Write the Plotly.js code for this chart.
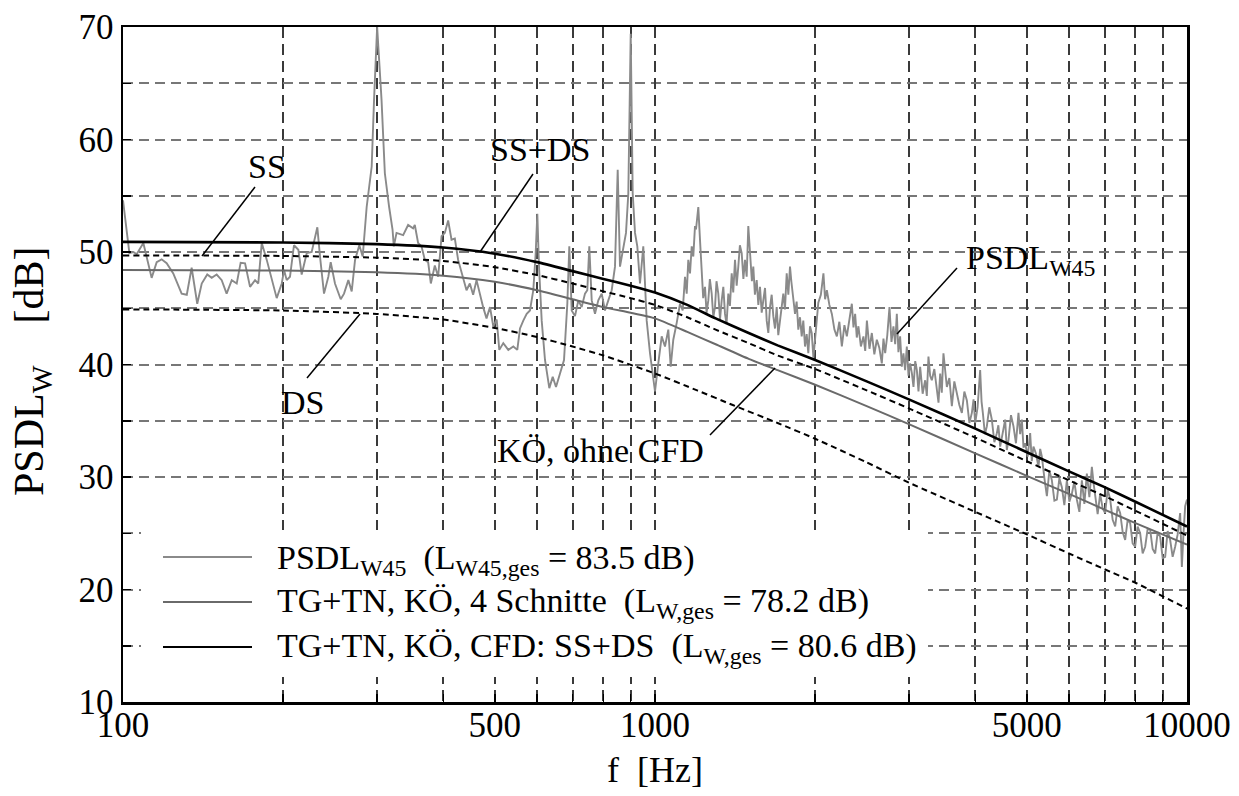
<!DOCTYPE html>
<html>
<head>
<meta charset="utf-8">
<script src="https://cdn.plot.ly/plotly-3.0.1.min.js"></script>
<style>html,body{margin:0;padding:0;background:#fff;}#chart{width:1239px;height:796px;}</style>
</head>
<body>
<div id="chart"></div>
<script>
// ---- Measured spectrum PSDL_W45 (f in Hz, level in dB) ----
const psdF = [100,102.8,104.6,106.1,109.2,113.2,115.7,118.2,120.8,124.3,128.9,131.8,134.6,137.9,140.6,144.0,146.8,150.0,153.3,156.6,160.1,163.6,166.4,169.6,173.3,177.1,179.6,182.3,186.3,190.3,194.5,198.8,200.8,203.1,206.0,209.6,213.6,216.7,221.5,226.3,231.9,234.6,238.7,243.2,245.7,250.3,256.6,260.3,265.2,269.1,273.0,278.1,282.2,287.1,293.4,296.4,300.4,306.2,310.6,316.4,321.1,322.9,326.7,336.2,343.5,351.0,353.6,358.7,364.0,369.3,374.6,379.0,385.6,391.2,397.0,402.7,408.5,414.5,420.5,426.5,432.9,442.3,448.7,455.2,461.9,468.5,475.3,482.3,
489.6,496.6,504.0,509.7,518.6,530.0,541.6,551.0,557.5,565.5,573.9,582.1,590.5,596.7,600.9,605.3,612.4,621.2,632.9,642.3,651.5,662.9,674.5,684.2,690.1,697.3,707.3,717.5,728.1,738.6,746.0,752.5,760.4,771.3,782.4,794.0,805.4,817.0,829.1,841.0,850.9,859.4,869.5,882.0,890.9,900.2,908.0,917.1,926.3,937.1,950.6,964.7,978.6,992.7,1000,
1014.4,1029.4,1044.2,1059.3,1070.3,1082.4,1098.5,1114.3,1127.4,1138.7,1147.1,1155.0,1163.6,1172.2,1180.3,1189.0,1194.2,1206.1,1215.0,1224.0,
1232,1241.6,1250,1259.5,1268,1278.1,1287,1296.5,1305,1315.2,1325,1334.7,1344,1353.9,1363,1373.4,1383,1393.7,1403,1413.8,1424,1434.1,1444,1455.4,1466,1476.3,1487,1497.5,1505,1513.2,1521,1530.3,1541,1553.0,1564,1575.3,1587,1598.0,1610,1621.7,1633,1645.0,1657,1668.7,1681,1693.5,1705,1717.8,1730,1742.5,1755,1768.3,1781,1793.8,1804,1814.9,1824,1833.1,1846,1859.4,1873,1887.0,1900,1914.2,1928,1941.7,1956,1970.5,1985,1998.9,2013,2027.6,
2050,2073,2088,2104,2127,2150,2174,2197,2221,2245,2270,2294,2320,2344,2361,2378,2395,2412,2438,2465,2484,2502,2530,2556,2584,2612,2640,2669,2688,2708,2733,2759,2783,2807,2828,2848,2868,2889,2910,2931,2952,2974,2996,3017,3040,3061,3084,3106,3128,3151,3185,3220,3243,3266,3290,3314,3350,3387,3411,3436,3460,3485,3511,3537,3575,3614,3653,3693,3733,3774,3815,3857,3899,3941,3970,3998,4040,4085,4110,4133,4170,4205,4250,4297,4344,4391,4420,4455,4503,4552,4585,4618,4668,4719,4770,4822,4857,4893,4928,4964,5018,5072,5108,5145,5200,5258,5297,5336,5394,5453,5512,5572,5633,5694,5756,5818,5881,5945,6010,6075,6141,6208,6276,6344,6413,6483,6554,6625,6672,6720,6793,6867,6942,7017,7094,7171,7249,7328,7408,7488,7570,7652,7735,7819,7904,7990,8077,8165,8254,8344,8435,8526,8619,8713,8808,8903,9000,9098,9197,9297,9398,9500,9603,9708,9744,9780,9850,9921,10000];
const psdL = [54.6,49.9,50.0,49.8,50.8,47.7,49.1,49.35,49.0,48.1,46.3,46.2,48.6,45.4,47.2,48.0,47.7,48.0,47.5,46.3,47.5,47.2,49.05,49.0,46.9,47.5,47.2,50.8,49.3,47.5,45.9,47.2,48.4,47.5,47.8,50.6,50.2,48.0,49.9,50.0,52.2,49.6,46.3,47.8,49.1,47.2,45.8,46.3,47.5,46.5,49.3,50.6,49.6,54.0,57.6,63.5,70.0,63.5,57.0,54.0,52.0,50.5,51.7,51.5,52.4,52.1,52.4,50.8,50.5,49.3,49.1,47.2,48.8,47.8,51.4,51.7,52.8,51.1,51.2,49.3,48.1,46.6,47.2,46.2,47.5,46.2,45.1,44.1,
45.1,43.4,44.0,41.3,41.9,41.3,41.6,41.3,43.2,43.9,44.5,44.8,46.6,49.9,53.4,48.7,43.9,40.4,37.9,38.9,38.0,39.2,40.4,45.4,50.5,44.8,44.3,45.7,45.1,46.3,46.6,50.5,45.7,44.5,45.7,46.3,44.8,45.7,46.6,48.7,57.3,48.7,49.9,51.7,55.2,69.4,55.2,51.7,50.5,47.2,50.5,43.9,41.0,38.6,37.6,
40.1,42.5,41.6,43.1,39.8,42.2,43.7,45.4,44.8,47.8,46.3,49.3,48.1,50.5,49.6,52.3,52.0,54.0,51.1,48.7,
45.9,46.9,44.6,45.7,47.6,46.3,44.2,45.1,47.4,46.3,44.0,45.7,46.9,44.5,43.6,46.3,45.2,48.1,46.4,49.3,47.0,48.7,50.6,49.9,47.6,49.3,47.8,52.3,50.8,49.9,47.4,48.7,46.2,47.5,45.3,46.9,44.6,45.7,46.8,43.9,42.8,45.1,46.2,44.3,43.2,45.1,42.6,43.9,45.0,46.3,44.9,48.1,46.2,48.7,47.4,46.3,45.6,44.5,45.6,43.1,44.2,42.5,43.9,41.6,42.7,41.0,43.4,42.8,40.6,41.9,43.8,45.5,
46.2,48.1,45.8,46.6,45.3,44.5,43.1,42.5,43.8,41.6,43.5,42.5,44.1,45.4,43.3,44.5,42.4,43.4,41.6,42.5,41.2,43.9,41.4,42.8,40.9,42.2,41.5,40.1,42.3,41.0,42.6,45.1,42.0,43.4,41.8,44.5,41.1,42.5,39.8,41.0,39.5,41.6,39.0,40.1,39.2,38.0,40.3,39.5,37.6,39.8,37.4,38.6,37.2,40.7,39.0,38.6,39.6,37.7,36.6,39.2,37.5,41.0,39.2,38.0,38.8,36.3,38.5,37.4,36.4,35.7,37.6,36.8,34.8,35.7,36.9,34.8,36.2,39.5,36.7,35.7,33.8,34.5,36.2,35.1,33.1,33.9,34.6,32.7,33.9,35.1,32.4,33.3,35.5,34.5,33.0,35.7,33.8,35.1,32.6,33.0,31.8,33.9,31.4,32.7,32.1,30.9,32.5,31.8,29.9,28.3,30.6,29.7,27.9,28.0,29.9,29.1,27.5,29.7,27.8,28.5,29.6,28.0,26.9,29.7,27.6,30.3,28.2,30.9,29.5,28.3,26.7,28.5,27.2,26.8,28.9,28.0,26.2,25.6,27.4,26.8,25.1,24.4,26.2,25.9,24.1,23.8,25.6,25.0,23.2,23.8,25.4,25.3,23.6,23.2,25.1,24.7,22.8,22.9,25.2,24.4,22.9,23.8,24.9,26.8,23.6,22.0,25.0,27.4,28.0];

// ---- Model curves ----
const sumF = [100,200,300,400,500,600,700,800,900,1000,1150,1300,1500,1700,2000,2500,3000,4000,5000,6000,7000,8000,10000];
const sumL = [50.9,50.85,50.7,50.4,49.85,49.1,48.3,47.6,47.0,46.4,45.3,44.1,42.8,41.7,40.4,38.5,36.9,34.3,32.2,30.5,29.1,27.8,25.6];
const ssF = [100,200,300,400,500,600,700,800,900,1000,1150,1300,1500,1700,2000,2500,3000,4000,5000,6000,7000,8000,10000];
const ssL = [49.7,49.65,49.5,49.2,48.65,47.95,47.2,46.5,45.9,45.3,44.2,43.1,41.9,40.8,39.6,37.7,36.1,33.5,31.4,29.7,28.3,27.0,24.8];
const koeF = [100,200,300,400,500,600,700,800,900,1000,1150,1300,1500,1700,2000,2500,3000,4000,5000,6000,7000,8000,10000];
const koeL = [48.4,48.35,48.2,47.9,47.35,46.6,45.8,45.1,44.6,44.1,42.9,41.8,40.5,39.5,38.2,36.3,34.7,32.1,30.1,28.5,27.1,25.9,24.0];
const dsF = [100,200,300,400,500,600,700,800,1000,1200,1400,1700,2000,2500,3000,4000,5000,6000,7000,8000,10000];
const dsL = [44.9,44.8,44.5,44.0,43.25,42.45,41.6,40.8,39.2,37.7,36.4,34.8,33.4,31.3,29.5,26.9,24.9,23.2,21.8,20.6,18.3];

// ---- Axis ticks ----
const xTickVals = [100,500,1000,5000,10000];
const xTickText = ['100','500','1000','5000','10000'];
const xMinorVals = [200,300,400,600,700,800,900,2000,3000,4000,6000,7000,8000,9000];
const yTickVals = [10,20,30,40,50,60,70];
const yTickText = ['10','20','30','40','50','60','70'];
const yMinorVals = [15,25,35,45,55,65];

// ---- Texts ----
const legendTexts = [
  'PSDL<sub>W45</sub>\u00a0\u00a0(L<sub>W45,ges</sub> = 83.5 dB)',
  'TG+TN, KÖ, 4 Schnitte\u00a0\u00a0(L<sub>W,ges</sub> = 78.2 dB)',
  'TG+TN, KÖ, CFD: SS+DS\u00a0\u00a0(L<sub>W,ges</sub> = 80.6 dB)'
];
const xTitle = 'f\u00a0\u00a0[Hz]';
const yTitle = 'PSDL<sub>W</sub>\u00a0\u00a0\u00a0\u00a0[dB]';

const FONT = 'Liberation Serif, Times New Roman, serif';
const PSD_COLOR = '#8a8a8a';
const KOE_COLOR = '#6a6a6a';
const VGRID = '#3a3a3a';
const HGRID = '#777777';

const traces = [
  {x: psdF, y: psdL, type: 'scatter', mode: 'lines', name: 'PSDL_W45',
   line: {color: PSD_COLOR, width: 1.9}},
  {x: koeF, y: koeL, type: 'scatter', mode: 'lines', name: 'TG+TN, KÖ, 4 Schnitte',
   line: {color: KOE_COLOR, width: 2, shape: 'spline', smoothing: 0.5}},
  {x: dsF, y: dsL, type: 'scatter', mode: 'lines', name: 'DS',
   line: {color: '#000', width: 2, dash: '6px,4px', shape: 'spline', smoothing: 0.5}},
  {x: ssF, y: ssL, type: 'scatter', mode: 'lines', name: 'SS',
   line: {color: '#000', width: 2, dash: '6px,4px', shape: 'spline', smoothing: 0.5}},
  {x: sumF, y: sumL, type: 'scatter', mode: 'lines', name: 'TG+TN, KÖ, CFD: SS+DS',
   line: {color: '#000', width: 2.6, shape: 'spline', smoothing: 0.5}}
];

// pixel -> paper helpers for the plot frame (l=123, r=1187, t=27, b=702)
const px = v => (v - 123) / 1064;
const py = v => (702 - v) / 675;

const shapes = [
  {type: 'rect', xref: 'paper', yref: 'paper', x0: px(141), x1: px(928), y0: py(677), y1: py(530),
   fillcolor: '#fff', line: {width: 0}, layer: 'above'},
  // legend samples
  {type: 'line', xref: 'paper', yref: 'paper', x0: px(163), x1: px(252), y0: py(557), y1: py(557), line: {color: PSD_COLOR, width: 2}},
  {type: 'line', xref: 'paper', yref: 'paper', x0: px(163), x1: px(252), y0: py(602), y1: py(602), line: {color: KOE_COLOR, width: 2}},
  {type: 'line', xref: 'paper', yref: 'paper', x0: px(163), x1: px(252), y0: py(647), y1: py(647), line: {color: '#000', width: 2}},
  // leader lines
  {type: 'line', xref: 'paper', yref: 'paper', x0: px(255), y0: py(187), x1: px(202), y1: py(256), line: {color: '#000', width: 1.5}},
  {type: 'line', xref: 'paper', yref: 'paper', x0: px(533), y0: py(174), x1: px(480), y1: py(252), line: {color: '#000', width: 1.5}},
  {type: 'line', xref: 'paper', yref: 'paper', x0: px(360), y0: py(314), x1: px(307), y1: py(378), line: {color: '#000', width: 1.5}},
  {type: 'line', xref: 'paper', yref: 'paper', x0: px(775), y0: py(368), x1: px(710), y1: py(435), line: {color: '#000', width: 1.5}},
  {type: 'line', xref: 'paper', yref: 'paper', x0: px(957), y0: py(268), x1: px(897), y1: py(334), line: {color: '#000', width: 1.5}}
];

const ann = (text, x, y, xanchor, size) => ({text, xref: 'paper', yref: 'paper', x: px(x), y: py(y),
  xanchor: xanchor || 'center', yanchor: 'middle', showarrow: false,
  font: {family: FONT, size: size || 34, color: '#000'}});

const annotations = [
  ann('SS', 267, 167),
  ann('SS+DS', 540, 150),
  ann('DS', 302, 402),
  ann('KÖ, ohne CFD', 600, 450),
  ann('PSDL<sub>W45</sub>', 964, 260, 'left'),
  ann(legendTexts[0], 275, 560, 'left'),
  ann(legendTexts[1], 275, 603, 'left'),
  ann(legendTexts[2], 275, 648, 'left'),
  ann(xTitle, 655, 770, 'center', 36),
  Object.assign(ann(yTitle, 32, 372, 'center', 42), {textangle: -90})
];

const layout = {
  width: 1239, height: 796,
  margin: {l: 123, r: 52, t: 27, b: 94},
  paper_bgcolor: '#fff', plot_bgcolor: '#fff',
  showlegend: false,
  font: {family: FONT, color: '#000'},
  xaxis: {
    type: 'log', range: [2, 4], tickmode: 'array', tickvals: xTickVals, ticktext: xTickText,
    ticks: 'inside', ticklen: 8, tickwidth: 1.5, tickcolor: '#000', ticklabelstandoff: -10,
    showgrid: true, gridcolor: VGRID, gridwidth: 2, griddash: '11px,6px',
    minor: {tickmode: 'array', tickvals: xMinorVals, ticks: 'inside', ticklen: 8, tickwidth: 1.5, tickcolor: '#000',
            showgrid: true, gridcolor: VGRID, gridwidth: 2, griddash: '11px,6px'},
    showline: true, mirror: true, linecolor: '#000', linewidth: 2.5, zeroline: false,
    tickfont: {family: FONT, size: 35, color: '#000'},
    automargin: false
  },
  yaxis: {
    range: [10, 70], tickmode: 'array', tickvals: yTickVals, ticktext: yTickText,
    ticks: 'inside', ticklen: 8, tickwidth: 1.5, tickcolor: '#000',
    showgrid: true, gridcolor: HGRID, gridwidth: 2, griddash: '10px,6px',
    minor: {tickmode: 'array', tickvals: yMinorVals, ticks: 'inside', ticklen: 8, tickwidth: 1.5, tickcolor: '#000',
            showgrid: true, gridcolor: HGRID, gridwidth: 2, griddash: '10px,6px'},
    showline: true, mirror: true, linecolor: '#000', linewidth: 2.5, zeroline: false,
    tickfont: {family: FONT, size: 35, color: '#000'},
    automargin: false
  },
  shapes, annotations
};

Plotly.newPlot('chart', traces, layout, {displayModeBar: false, staticPlot: true});
</script>
</body>
</html>
